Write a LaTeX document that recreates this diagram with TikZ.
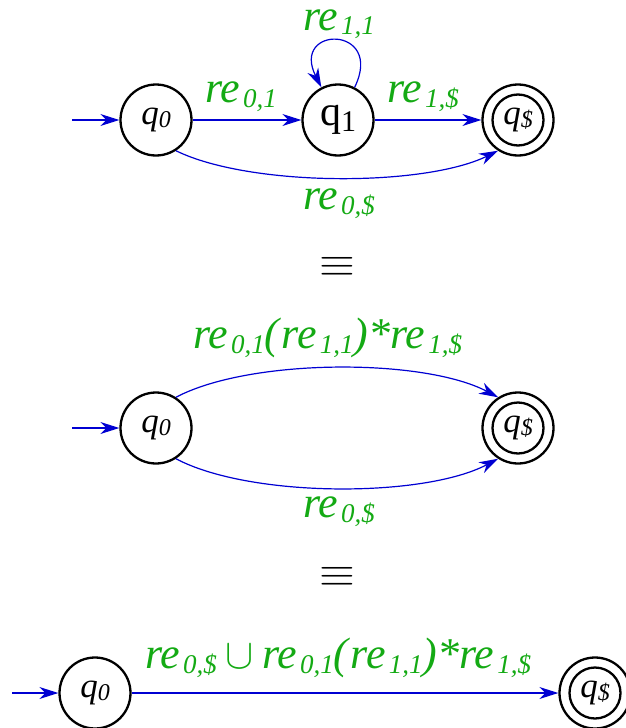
\documentclass[tikz,border=0pt]{standalone}
\usepackage{fontspec}
\usepackage{graphicx}
\setmainfont{Liberation Serif}
\usetikzlibrary{arrows.meta}
\definecolor{lblgreen}{RGB}{20,170,20}
\definecolor{edgeblue}{RGB}{0,0,210}
\newcommand\lre[1]{\textit{re}\hspace{3pt}\raisebox{-5pt}{\fontsize{27}{27}\selectfont\textit{#1}}}
\newcommand\qsub[1]{\textit{q}\raisebox{-3pt}{\fontsize{24}{24}\selectfont\textit{#1}}}
\begin{document}
\begin{tikzpicture}[x=1pt,y=-1pt,
  state/.style={circle,draw=black,line width=2.3pt,minimum size=71pt,inner sep=0pt,
    font=\fontsize{35}{35}\selectfont},
  final/.style={state,path picture={\draw[line width=2.3pt] (path picture bounding box.center) circle[radius=25.5pt];}},
  trans/.style={draw=edgeblue,line width=1.2pt,-{Stealth[length=19pt,width=12pt,inset=6pt]}},
  lbl/.style={text=lblgreen,inner sep=0pt,anchor=base west,font=\fontsize{44}{46}\selectfont},
  eqv/.style={inner sep=0pt}]
\useasboundingbox (0,0) rectangle (626,728);
% ---------- top ----------
\node[state] (a0) at (156,120) {\qsub{0}};
\node[state] (a1) at (338,120) {\fontsize{42}{42}\selectfont q\raisebox{-6pt}{\fontsize{30}{30}\selectfont 1}};
\node[final] (af) at (518,120) {\qsub{\$}};
\coordinate (ain) at (72,120);
\draw[trans] (ain) -- (a0);
\draw[trans] (a0) -- (a1);
\draw[trans] (a1) -- (af);
\draw[trans] (a1.63) .. controls (385,25) and (290,25) .. (a1.117);
\draw[trans] (a0.-57) .. controls (250,187) and (424,187) .. (af.-123);
\node[lbl] (l11) at (303,30) {\lre{1,1}};
\node[lbl] (l01) at (205,102) {\lre{0,1}};
\node[lbl] (l1f) at (387,102) {\lre{1,\$}};
\node[lbl] (l0f) at (303,209) {\lre{0,\$}};
\node[eqv] (e1) at (337,267) {\scalebox{4.6}[4.1]{$\equiv$}};
% ---------- middle ----------
\node[state] (b0) at (156,428) {\qsub{0}};
\node[final] (bf) at (518,428) {\qsub{\$}};
\coordinate (bin) at (72,428);
\draw[trans] (bin) -- (b0);
\draw[trans] (b0.57) .. controls (250,358) and (424,358) .. (bf.123);
\draw[trans] (b0.-57) .. controls (250,498) and (424,498) .. (bf.-123);
\node[lbl] (m1) at (193,348) {\lre{0,1}\textit{(}\lre{1,1}\textit{)*}\lre{1,\$}};
\node[lbl] (m2) at (303,517) {\lre{0,\$}};
\node[eqv] (e2) at (337,577) {\scalebox{4.6}[4.1]{$\equiv$}};
% ---------- bottom ----------
\node[state] (c0) at (95,693) {\qsub{0}};
\node[final] (cf) at (595,693) {\qsub{\$}};
\coordinate (cin) at (12,693);
\draw[trans] (cin) -- (c0);
\draw[trans] (c0) -- (cf);
\node[lbl] (bl) at (145,668) {\lre{0,\$}\hspace{9pt}\scalebox{1.7}{$\cup$}\hspace{8pt}\lre{0,1}\textit{(}\lre{1,1}\textit{)*}\lre{1,\$}};
\end{tikzpicture}
\end{document}
